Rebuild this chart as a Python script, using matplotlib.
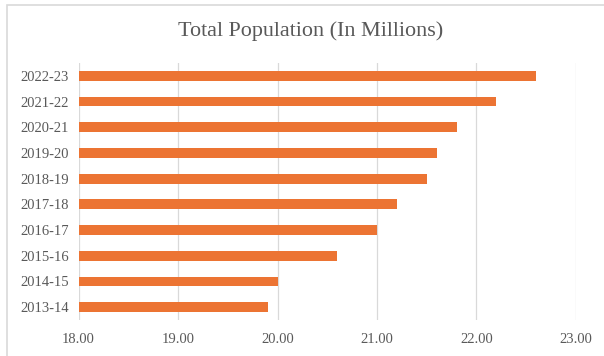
'''Total population (in millions) horizontal bar chart'''
import matplotlib
matplotlib.use('Agg')
import matplotlib.pyplot as plt
from matplotlib import rcParams
from matplotlib.patches import Rectangle

params = {'font.family': 'Liberation Serif', 'font.size': 10.5}
rcParams.update(params)

years = ['2013-14', '2014-15', '2015-16', '2016-17', '2017-18',
         '2018-19', '2019-20', '2020-21', '2021-22', '2022-23']
population = [19.9, 20.0, 20.6, 21.0, 21.2, 21.5, 21.6, 21.8, 22.2, 22.6]
x_ticks = [18, 19, 20, 21, 22, 23]

bar_color = '#EC7433'
text_color = '#595959'
grid_color = '#D9D9D9'

fig = plt.figure(figsize=(6.04, 3.56), dpi=100)
ax = fig.add_axes([0.130, 0.101, 0.8236, 0.722])

# bars start at the axis minimum (18), like the original
base = 18
ax.barh(range(len(years)), [p - base for p in population], left=base,
        height=0.38, color=bar_color, zorder=3)

ax.set_xlim(18, 23)
ax.set_ylim(-0.5, len(years) - 0.5)
ax.set_xticks(x_ticks)
ax.set_xticklabels(['%.2f' % t for t in x_ticks], color=text_color)
ax.set_yticks(range(len(years)))
ax.set_yticklabels(years, color=text_color)
ax.tick_params(length=0, pad=7)
ax.tick_params(axis='x', pad=9)
ax.grid(axis='x', color=grid_color, linewidth=0.9, zorder=0)
for s in ax.spines.values():
    s.set_visible(False)

fig.text(0.514, 0.913, 'Total Population (In Millions)', ha='center', va='center',
         fontsize=15.9, color=text_color)

# chart border (only left and top visible in the crop)
fig.patches.append(Rectangle((7 / 604, -0.1), 1.2, 1.1 - 5 / 356,
                             transform=fig.transFigure, fill=False,
                             edgecolor='#D9D9D9', linewidth=1.2))

plt.savefig('out.png', dpi=100)
